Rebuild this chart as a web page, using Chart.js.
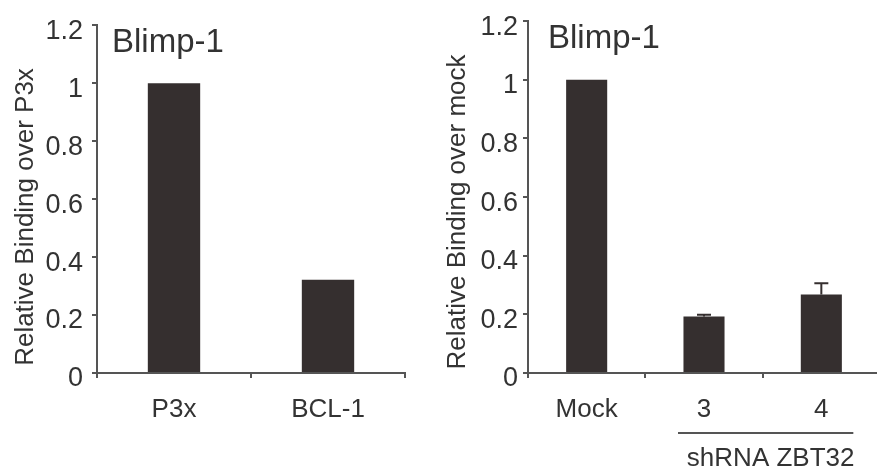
<!DOCTYPE html>
<html>
<head>
<meta charset="utf-8">
<script src="https://cdn.jsdelivr.net/npm/chart.js@4"></script>
<style>
  html, body { margin: 0; padding: 0; background: #fff; overflow: hidden; width: 877px; height: 475px; }
  #c1 { position: absolute; left: 0; top: 0; }
  #c2 { position: absolute; left: 440px; top: 0; }
</style>
</head>
<body>
<canvas id="c1" width="440" height="475"></canvas>
<canvas id="c2" width="445" height="475"></canvas>
<script>
// data
var leftLabels = ['P3x', 'BCL-1'];
var leftValues = [1.0, 0.322];
var leftTitle = 'Relative Binding over P3x';

var rightLabels = ['Mock', '3', '4'];
var rightValues = [1.0, 0.193, 0.268];
var rightErrors = [0, 0.006, 0.038];
var rightTitle = 'Relative Binding over mock';

var yTicks = [0, 0.2, 0.4, 0.6, 0.8, 1, 1.2];
var panelTitle = 'Blimp-1';
var groupLabel = 'shRNA ZBT32';

var FONT = "'Liberation Sans', Arial, Helvetica, sans-serif";
var TEXT = '#333';
var AXIS = '#555';
var BAR = '#352f2f';

// "Blimp-1" inside the plot, top left
var panelTitlePlugin = {
    id: 'panelTitle',
    afterDraw: function (chart, args, opts) {
        var ctx = chart.ctx, a = chart.chartArea;
        ctx.save();
        ctx.fillStyle = TEXT;
        ctx.font = '33px ' + FONT;
        ctx.textBaseline = 'alphabetic';
        ctx.fillText(panelTitle, a.left + opts.dx, a.top + opts.dy);
        ctx.restore();
    }
};

// rotated y axis title, placed like the original (a bit below centre)
var yTitlePlugin = {
    id: 'yTitle',
    afterDraw: function (chart, args, opts) {
        var ctx = chart.ctx;
        ctx.save();
        ctx.translate(opts.x, opts.y);
        ctx.rotate(-Math.PI / 2);
        ctx.fillStyle = TEXT;
        ctx.font = '26px ' + FONT;
        ctx.textAlign = 'center';
        ctx.textBaseline = 'alphabetic';
        ctx.fillText(opts.text, 0, 0);
        ctx.restore();
    }
};

// upward error bars
var errorBarPlugin = {
    id: 'errorBars',
    afterDatasetsDraw: function (chart) {
        var errs = chart.options.plugins.errorBars.errors;
        if (!errs) return;
        var ctx = chart.ctx, y = chart.scales.y;
        var meta = chart.getDatasetMeta(0);
        var vals = chart.data.datasets[0].data;
        ctx.save();
        ctx.strokeStyle = BAR;
        ctx.lineWidth = 2;
        meta.data.forEach(function (bar, i) {
            if (!errs[i]) return;
            var y0 = y.getPixelForValue(vals[i]);
            var y1 = y.getPixelForValue(vals[i] + errs[i]);
            ctx.beginPath();
            ctx.moveTo(bar.x, y0);
            ctx.lineTo(bar.x, y1);
            ctx.moveTo(bar.x - 7, y1);
            ctx.lineTo(bar.x + 7, y1);
            ctx.stroke();
        });
        ctx.restore();
    }
};

// bracket line + label under the shRNA bars
var groupPlugin = {
    id: 'group',
    afterDraw: function (chart, args, opts) {
        if (!opts.from) return;
        var ctx = chart.ctx, x = chart.scales.x, a = chart.chartArea;
        var x0 = x.getPixelForValue(x.getLabels().indexOf(opts.from)) - 26;
        var x1 = x.getPixelForValue(x.getLabels().indexOf(opts.to)) + 32;
        ctx.save();
        ctx.strokeStyle = AXIS;
        ctx.lineWidth = 2;
        ctx.beginPath();
        ctx.moveTo(x0, a.bottom + 60);
        ctx.lineTo(x1, a.bottom + 60);
        ctx.stroke();
        ctx.fillStyle = TEXT;
        ctx.font = '26px ' + FONT;
        ctx.textAlign = 'center';
        ctx.textBaseline = 'middle';
        ctx.fillText(groupLabel, (x0 + x1) / 2 + 5, a.bottom + 86);
        ctx.restore();
    }
};

function makeConfig(labels, values, yTitle, o) {
    return {
        type: 'bar',
        data: {
            labels: labels,
            datasets: [{
                data: values,
                backgroundColor: BAR,
                borderWidth: 0,
                barPercentage: o.barPct,
                categoryPercentage: 1.0
            }]
        },
        options: {
            responsive: false,
            animation: false,
            layout: { padding: { left: 0, top: o.top, right: o.right, bottom: 0 } },
            plugins: {
                legend: { display: false },
                tooltip: { enabled: false },
                panelTitle: { dx: o.titleDx, dy: 27 },
                yTitle: { text: yTitle, x: o.yTitleX, y: o.yTitleY },
                errorBars: { errors: o.errors },
                group: o.group || {}
            },
            scales: {
                x: {
                    grid: { drawOnChartArea: false, offset: true, tickLength: 5, color: AXIS, lineWidth: 2 },
                    border: { color: AXIS, width: 2 },
                    ticks: { color: TEXT, font: { family: FONT, size: 26 }, padding: 16 },
                    afterFit: function (s) { s.height = 475 - 373; }
                },
                y: {
                    min: 0,
                    max: 1.2,
                    afterBuildTicks: function (s) {
                        s.ticks = yTicks.map(function (v) { return { value: v }; });
                    },
                    grid: { drawOnChartArea: false, tickLength: 5, color: AXIS, lineWidth: 2 },
                    border: { color: AXIS, width: 2 },
                    ticks: {
                        color: TEXT,
                        font: { family: FONT, size: 27 },
                        padding: o.tickPad,
                        labelOffset: 6,
                        callback: function (v) { return String(Math.round(v * 10) / 10); }
                    },
                    afterFit: function (s) { s.width = o.yWidth; }
                }
            }
        },
        plugins: [panelTitlePlugin, yTitlePlugin, errorBarPlugin, groupPlugin]
    };
}

new Chart(document.getElementById('c1'), makeConfig(leftLabels, leftValues, leftTitle, {
    barPct: 0.34, top: 25, right: 35, yWidth: 97, tickPad: 9, titleDx: 15,
    yTitleX: 33, yTitleY: 217
}));

new Chart(document.getElementById('c2'), makeConfig(rightLabels, rightValues, rightTitle, {
    barPct: 0.35, top: 21, right: 5, yWidth: 88, tickPad: 5, titleDx: 20,
    yTitleX: 25, yTitleY: 212,
    errors: rightErrors,
    group: { from: '3', to: '4' }
}));
</script>
</body>
</html>
